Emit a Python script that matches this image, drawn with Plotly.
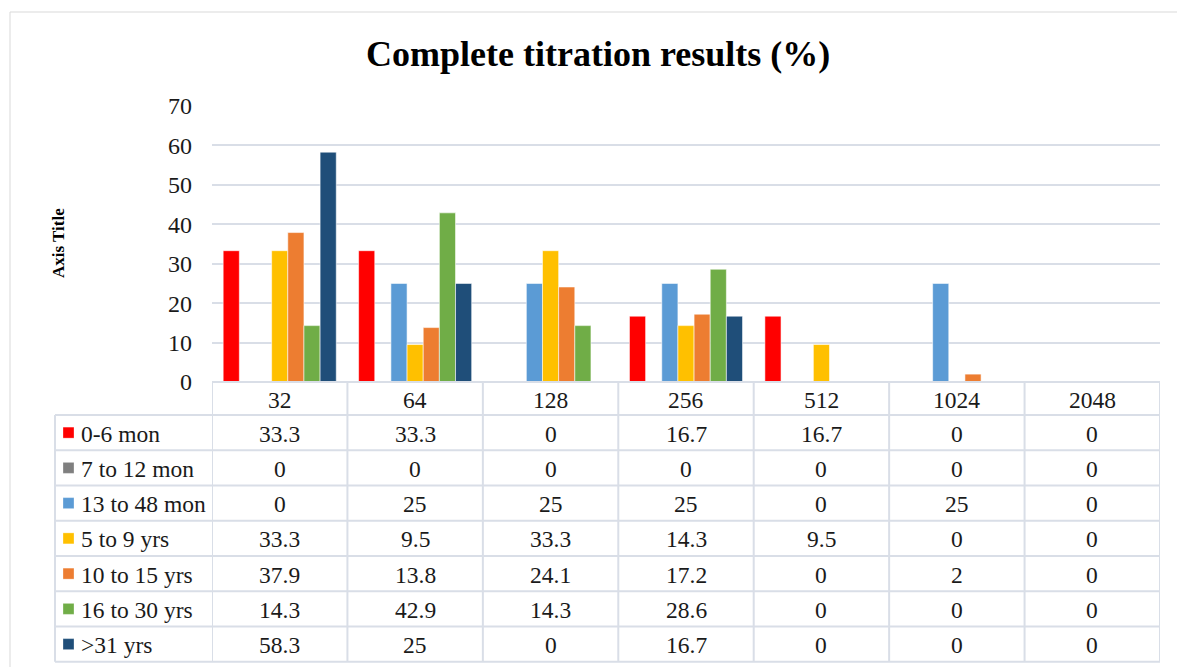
import plotly.graph_objects as go

W, H = 1177, 667

categories = ["32", "64", "128", "256", "512", "1024", "2048"]
series_names = ["0-6 mon", "7 to 12 mon", "13 to 48 mon", "5 to 9 yrs",
                "10 to 15 yrs", "16 to 30 yrs", ">31 yrs"]
v_0_6_mon = [33.3, 33.3, 0, 16.7, 16.7, 0, 0]
v_7_12_mon = [0, 0, 0, 0, 0, 0, 0]
v_13_48_mon = [0, 25, 25, 25, 0, 25, 0]
v_5_9_yrs = [33.3, 9.5, 33.3, 14.3, 9.5, 0, 0]
v_10_15_yrs = [37.9, 13.8, 24.1, 17.2, 0, 2, 0]
v_16_30_yrs = [14.3, 42.9, 14.3, 28.6, 0, 0, 0]
v_31_yrs = [58.3, 25, 0, 16.7, 0, 0, 0]
series_values = [v_0_6_mon, v_7_12_mon, v_13_48_mon, v_5_9_yrs,
                 v_10_15_yrs, v_16_30_yrs, v_31_yrs]
colors = ["#FF0000", "#7F7F7F", "#5B9BD5", "#FFC000", "#ED7D31", "#70AD47", "#1F4E79"]
y_ticks = [0, 10, 20, 30, 40, 50, 60, 70]

FONT = "Liberation Serif"
GRID = "#D9DEE7"
TXT = "#1a1a1a"
TBL_SIZE = 23.5

def px_x(x):
    return x / W

def px_y(y):
    return 1 - y / H

plot_left, plot_right = 212, 1160
plot_top, plot_bottom = 106, 382

fig = go.Figure()
for name, vals, col in zip(series_names, series_values, colors):
    fig.add_trace(go.Bar(
        x=categories, y=vals, name=name,
        marker=dict(color=col, line=dict(color="rgba(255,255,255,0.7)", width=0.8)),
        showlegend=False,
    ))

shapes = []
annotations = []

def ann(**kw):
    d = dict(showarrow=False, xanchor="center", yanchor="middle")
    d.update(kw)
    annotations.append(d)

# outer chart border (top/left)
shapes.append(dict(type="rect", xref="paper", yref="paper",
                   x0=px_x(10), x1=px_x(1190), y0=px_y(690), y1=px_y(12),
                   line=dict(color="#D9D9D9", width=1), layer="below"))

# table geometry
header_bottom = 415
row_h = 35.25
n_rows = len(series_names)
table_bottom = header_bottom + n_rows * row_h
label_left = 55

# horizontal lines
shapes.append(dict(type="line", xref="paper", yref="paper",
                   x0=px_x(plot_left), x1=px_x(plot_right),
                   y0=px_y(plot_bottom), y1=px_y(plot_bottom),
                   line=dict(color=GRID, width=2)))
for i in range(n_rows + 1):
    yy = header_bottom + i * row_h
    shapes.append(dict(type="line", xref="paper", yref="paper",
                       x0=px_x(label_left), x1=px_x(plot_right),
                       y0=px_y(yy), y1=px_y(yy),
                       line=dict(color=GRID, width=2)))
# vertical lines
shapes.append(dict(type="line", xref="paper", yref="paper",
                   x0=px_x(label_left), x1=px_x(label_left),
                   y0=px_y(header_bottom), y1=px_y(table_bottom),
                   line=dict(color=GRID, width=2)))
for k in range(len(categories) + 1):
    shapes.append(dict(type="line", xref="x", yref="paper",
                       x0=k - 0.5, x1=k - 0.5,
                       y0=px_y(plot_bottom), y1=px_y(table_bottom),
                       line=dict(color=GRID, width=2)))

# header row (categories) -- positioned by category index on the x axis
for j, c in enumerate(categories):
    ann(xref="x", yref="paper", x=j,
        y=px_y((plot_bottom + header_bottom) / 2 + 1),
        text=c, font=dict(family=FONT, size=TBL_SIZE, color=TXT))

# rows
for i, (name, vals, col) in enumerate(zip(series_names, series_values, colors)):
    yc = header_bottom + (i + 0.5) * row_h
    shapes.append(dict(type="rect", xref="paper", yref="paper",
                       x0=px_x(63), x1=px_x(74),
                       y0=px_y(yc + 5.5), y1=px_y(yc - 5.5),
                       fillcolor=col, line=dict(color="rgba(255,255,255,0.6)", width=0.5)))
    ann(xref="paper", yref="paper", x=px_x(79), y=px_y(yc + 1), xanchor="left",
        text=name, font=dict(family=FONT, size=TBL_SIZE, color=TXT))
    for j, v in enumerate(vals):
        ann(xref="x", yref="paper", x=j, y=px_y(yc + 1),
            text=f"{v:g}", font=dict(family=FONT, size=TBL_SIZE, color=TXT))

# title
ann(xref="paper", yref="paper", x=px_x(598), y=px_y(54),
    text="<b>Complete titration results (%)</b>",
    font=dict(family=FONT, size=36, color="#000000"))
# y axis title
ann(xref="paper", yref="paper", x=px_x(58), y=px_y(243),
    text="<b>Axis Title</b>", textangle=-90,
    font=dict(family=FONT, size=17, color="#000000"))

fig.update_layout(
    template="none",
    width=W, height=H, autosize=False,
    margin=dict(l=0, r=0, t=0, b=0, pad=0),
    paper_bgcolor="white", plot_bgcolor="white",
    barmode="group", bargap=0.165, bargroupgap=0,
    xaxis=dict(domain=[px_x(plot_left), px_x(plot_right)], type="category",
               range=[-0.5, len(categories) - 0.5], showticklabels=False,
               showgrid=False, zeroline=False, showline=False, ticks="",
               automargin=False),
    yaxis=dict(domain=[px_y(plot_bottom), px_y(plot_top)], range=[0, 70],
               tickvals=y_ticks, showgrid=True, gridcolor=GRID, gridwidth=2,
               zeroline=False, showline=False, ticks="", ticklabelstandoff=19,
               automargin=False,
               tickfont=dict(family=FONT, size=24, color=TXT)),
    shapes=shapes, annotations=annotations,
)

fig.write_html("out.html", config={"displayModeBar": False},
               post_script="document.body.style.margin='0';document.body.style.overflow='hidden';")
